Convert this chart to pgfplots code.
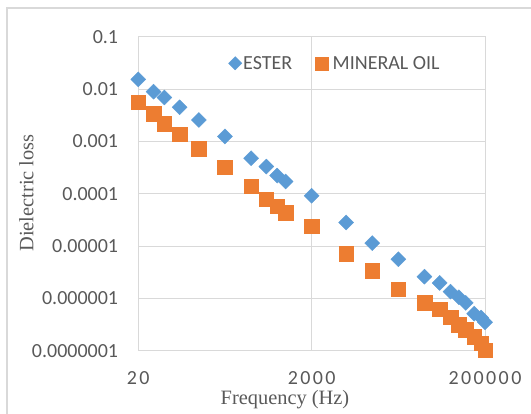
\documentclass[border=0pt]{standalone}
\usepackage{pgfplots}
\pgfplotsset{compat=1.18}
\usepackage{fontspec}
\setmainfont{Carlito}
\newfontfamily\tickfont{Carlito}
\newfontfamily\xtickfont[LetterSpace=12]{Carlito}
\newfontfamily\titlefont{Liberation Serif}
\definecolor{ester}{HTML}{5B9BD5}
\definecolor{oil}{HTML}{ED7D31}
\definecolor{gridgray}{HTML}{D9D9D9}
\definecolor{textgray}{HTML}{595959}
\pgfplotstableread{
f v
20 0.0153
30 0.0089
40 0.0069
60 0.00448
100 0.00257
200 0.00124
400 0.000476
600 0.00033
800 0.000222
1000 0.000171
2000 0.0000915
5000 0.0000282
10000 0.0000114
20000 0.0000056
40000 0.0000026
60000 0.00000197
80000 0.00000135
100000 0.00000105
120000 0.00000082
150000 0.00000051
180000 0.00000043
200000 0.00000035
}\ester
\pgfplotstableread{
f v
20 0.00557
30 0.00338
40 0.00215
60 0.00136
100 0.000724
200 0.000319
400 0.00014
600 0.000079
800 0.000058
1000 0.0000434
2000 0.0000241
5000 0.00000705
10000 0.00000334
20000 0.00000151
40000 0.00000083
60000 0.00000062
80000 0.000000435
100000 0.00000031
120000 0.00000025
150000 0.000000185
180000 0.000000138
200000 0.000000103
}\oil
\begin{document}
\begin{tikzpicture}
\begin{axis}[name=ax, scale only axis, width=346.7bp, height=314bp,
  xmode=log, ymode=log, xmin=20, xmax=200000, ymin=1e-7, ymax=0.1,
  xtick={20,2000,200000}, xticklabels={20,2000,200000},
  ytick={1e-7,1e-6,1e-5,1e-4,1e-3,1e-2,1e-1},
  yticklabels={0.0000001,0.000001,0.00001,0.0001,0.001,0.01,0.1},
  xminorticks=false, yminorticks=false,
  major tick length=0pt,
  grid=major, major grid style={draw=gridgray, line width=1bp},
  axis line style={draw=gridgray, line width=1bp},
  clip=false,
  xticklabel style={font=\xtickfont\fontsize{20bp}{24bp}\selectfont, text=textgray, anchor=north, inner sep=0pt, yshift=-20.7bp},
  yticklabel style={font=\tickfont\fontsize{20bp}{24bp}\selectfont, text=textgray, anchor=east, inner sep=0pt, xshift=-20bp},
  xlabel={Frequency (Hz)},
  xlabel style={font=\titlefont\fontsize{20.4bp}{24bp}\selectfont, text=textgray, at={(axis description cs:0.423,-0.1729)}, anchor=base, inner sep=0pt},
  ylabel={Dielectric loss},
  ylabel style={font=\titlefont\fontsize{20.4bp}{24bp}\selectfont, text=textgray, at={(axis description cs:-0.3023,0.502)}, anchor=base, inner sep=0pt},
  legend columns=2, legend cell align=left,
  legend style={at={(0.2596,0.9153)}, anchor=west, draw=none, fill=none, inner sep=0pt,
    nodes={inner sep=0pt, text depth=0pt, font=\tickfont\fontsize{20bp}{24bp}\selectfont, text=textgray}, column sep=0pt},
]
\addplot[only marks, mark=square*, mark size=5.3bp, color=ester, mark options={rotate=45},
  legend image code/.code={\path[draw=none,fill=none] (-6.7bp,-6.5bp) rectangle (8bp,6.5bp); \draw[mark size=4.7bp] plot coordinates {(0bp,0bp)};}]
  table[x=f,y=v] {\ester};
\addlegendentry{ESTER}
\addplot[only marks, mark=square*, mark size=7.3bp, color=oil,
  legend image code/.code={\path[draw=none,fill=none] (-30bp,-6.5bp) rectangle (10.5bp,6.5bp); \draw[mark size=6.5bp] plot coordinates {(0bp,0bp)};}]
  table[x=f,y=v] {\oil};
\addlegendentry{MINERAL OIL}
\end{axis}
\pgfresetboundingbox
\path[use as bounding box] ([shift={(-138.3bp,-63.3bp)}]ax.south west) rectangle ([shift={(392.7bp,350.7bp)}]ax.south west);
\draw[gridgray, line width=1.3bp] ([shift={(-131.3bp,-80bp)}]ax.south west) -- ([shift={(-131.3bp,342.7bp)}]ax.south west) -- ([shift={(420bp,342.7bp)}]ax.south west);
\end{tikzpicture}
\end{document}
